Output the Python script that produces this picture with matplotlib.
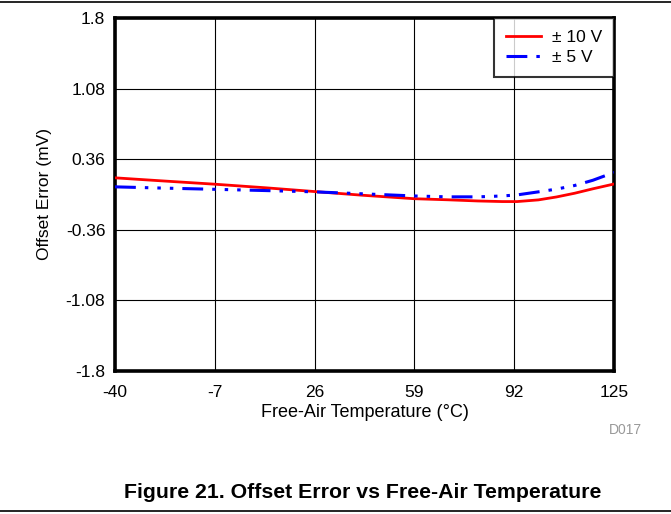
import matplotlib
matplotlib.use("Agg")
import matplotlib.pyplot as plt
from matplotlib.lines import Line2D

plt.rcParams["font.family"] = ["Liberation Sans", "DejaVu Sans"]
plt.rcParams["lines.scale_dashes"] = False

# values (mV)
temp = [-40, -25, -7, 10, 26, 42, 59, 70, 80, 88, 93, 100, 106, 112, 118, 125]
err_10v = [0.170, 0.140, 0.105, 0.068, 0.030, -0.008, -0.043, -0.054, -0.066, -0.072, -0.072,
           -0.055, -0.025, 0.013, 0.058, 0.107]
err_5v = [0.078, 0.066, 0.053, 0.040, 0.027, 0.007, -0.015, -0.024, -0.024, -0.015, -0.004,
          0.027, 0.055, 0.092, 0.145, 0.225]

xticks = [-40, -7, 26, 59, 92, 125]
yticks = [-1.8, -1.08, -0.36, 0.36, 1.08, 1.8]
ytick_labels = ["-1.8", "-1.08", "-0.36", "0.36", "1.08", "1.8"]

fig = plt.figure(figsize=(6.71, 5.14), dpi=100)
ax = fig.add_axes([115 / 671, 1 - 371 / 514, 499 / 671, 353 / 514])

ax.plot(temp, err_10v, color="#ff0000", lw=2.0, label="± 10 V", zorder=3)
ax.plot(temp, err_5v, color="#0000ff", lw=2.2, label="± 5 V", zorder=3,
        dashes=(15, 6.5, 2.5, 6.5, 2.5, 6.5, 2.5, 6.5))

ax.set_xlim(-40, 125)
ax.set_ylim(-1.8, 1.8)
ax.set_xticks(xticks)
ax.set_yticks(yticks)
ax.set_xticklabels([str(t) for t in xticks])
ax.set_yticklabels(ytick_labels)
ax.tick_params(length=0, labelsize=12.5)
ax.tick_params(axis="x", pad=10)
ax.tick_params(axis="y", pad=7)
ax.grid(True, color="black", lw=0.8)
for s in ax.spines.values():
    s.set_linewidth(2.6)

ax.set_xlabel("Free-Air Temperature (°C)", fontsize=13, labelpad=3)
ax.set_ylabel("Offset Error (mV)", fontsize=12.5, labelpad=10)

leg = ax.legend(loc="upper right", fontsize=12.5, frameon=True, fancybox=False,
                borderaxespad=0, handlelength=2.0, handletextpad=0.6,
                borderpad=0.7, labelspacing=0.25)
leg.get_frame().set_edgecolor("black")
leg.get_frame().set_linewidth(1.5)

fig.text(625 / 671, 1 - 430 / 514, "D017", color="#999999", fontsize=10, ha="center", va="center")
fig.text(363 / 671, 1 - 493 / 514, "Figure 21. Offset Error vs Free-Air Temperature",
         fontsize=15.3, fontweight="bold", ha="center", va="center")

fig.add_artist(Line2D([0, 1], [1 - 1.5 / 514, 1 - 1.5 / 514], color="black", lw=1.2))
fig.add_artist(Line2D([0, 1], [1 - 511 / 514, 1 - 511 / 514], color="black", lw=1.2))

fig.savefig("out.png", dpi=100)
